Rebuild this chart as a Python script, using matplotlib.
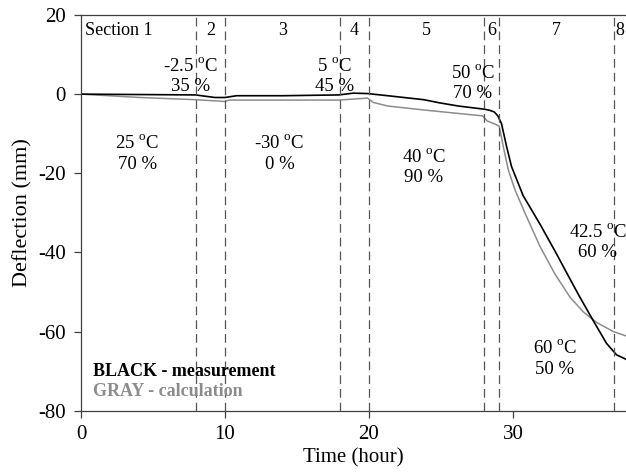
import numpy as np
import matplotlib
matplotlib.use('Agg')
import matplotlib.pyplot as plt

plt.rcParams['font.family'] = ['Liberation Serif', 'DejaVu Serif']
plt.rcParams['mathtext.fontset'] = 'custom'
plt.rcParams['mathtext.rm'] = 'Liberation Serif'
plt.rcParams['axes.unicode_minus'] = False

# measured deflection (black)
meas_t = [0, 4, 7.95, 9.3, 10, 10.8, 14, 17.9, 18.9, 19.9, 21.3, 23.8, 24.9, 26.2,
          28.0, 28.4, 28.7, 28.95, 29.2, 29.56, 29.9, 30.7, 31.9, 33.0, 33.75, 34.6, 35.6,
          36.5, 37.2, 37.85]
meas_d = [0, -0.1, -0.2, -0.85, -0.85, -0.4, -0.4, -0.2, 0.25, 0.15, -0.4, -1.4, -2.2, -3.0,
          -3.8, -4.1, -4.5, -5.5, -7.4, -13.3, -18.3, -25.6, -33.0, -40.2, -45.3, -51.0, -57.4,
          -63.0, -65.9, -67.0]

# calculated deflection (gray)
calc_t = [0, 4.1, 7.95, 10, 10.3, 17.9, 19.9, 20.3, 21.3, 23.8, 27.9, 28.2, 28.9, 29.05,
          29.33, 29.68, 30.14, 30.84, 31.88, 32.92, 33.96, 34.88, 35.81, 36.97, 37.85]
calc_d = [0, -0.85, -1.4, -1.85, -1.5, -1.5, -1.0, -2.1, -3.0, -4.0, -5.5, -6.75, -7.8, -8.2,
          -13.3, -19.2, -24.2, -30.1, -38.5, -45.5, -51.3, -55.0, -57.7, -60.0, -61.1]

# section boundaries (hour)
bounds = [8, 10, 18, 20, 28, 29, 37]
sec_labels = ['2', '3', '4', '5', '6', '7', '8']
sec_x = [9, 14, 19, 24, 28.5, 33, 37.45]

# climate conditions for each section
cond_text = ['25 $^{\\mathrm{o}}$C\n70 %', '-2.5 $^{\\mathrm{o}}$C\n35 %', '-30 $^{\\mathrm{o}}$C\n0 %',
             '5 $^{\\mathrm{o}}$C\n45 %', '40 $^{\\mathrm{o}}$C\n90 %', '50 $^{\\mathrm{o}}$C\n70 %',
             '60 $^{\\mathrm{o}}$C\n50 %', '42.5 $^{\\mathrm{o}}$C\n60 %']
cond_x = [3.9, 7.6, 13.8, 17.6, 23.8, 27.2, 32.9, 35.9]
cond_y = [-15.0, 4.6, -15.0, 4.6, -18.5, 2.8, -66.8, -37.3]


def _main():
    fig = plt.figure(figsize=(6.26, 4.72), dpi=100)
    ax = fig.add_axes([81 / 626, 1 - 410.7 / 472, 545 / 626, 395.7 / 472])

    ax.plot(calc_t, calc_d, color='#8c8c8c', lw=1.1)
    ax.plot(meas_t, meas_d, color='black', lw=1.2)

    for b in bounds:
        ax.axvline(b, color='#555555', lw=0.9, dashes=(7, 4))

    ax.text(0.3, 16.2, 'Section 1', fontsize=13, ha='left', va='center')
    for x, s in zip(sec_x, sec_labels):
        ax.text(x, 16.2, s, fontsize=13, ha='center', va='center')

    for x, y, s in zip(cond_x, cond_y, cond_text):
        ax.text(x, y, s, fontsize=13.5, ha='center', va='center', linespacing=1.25)

    ax.text(0.85, -70.2, 'BLACK - measurement', fontsize=13, fontweight='bold',
            color='black', ha='left', va='center')
    ax.text(0.85, -75.2, 'GRAY - calculation', fontsize=13, fontweight='bold',
            color='#8c8c8c', ha='left', va='center')

    ax.set_xlim(0, 37.85)
    ax.set_ylim(-80, 20)
    ax.set_xticks([0, 10, 20, 30])
    ax.set_yticks([20, 0, -20, -40, -60, -80])
    ax.tick_params(labelsize=15, color='#404040', length=5, width=0.9)
    ax.tick_params(axis='x', pad=5)
    ax.tick_params(axis='y', pad=6)
    ax.set_xlabel('Time (hour)', fontsize=15, labelpad=3)
    ax.set_ylabel('Deflection (mm)', fontsize=16, labelpad=4)

    ax.spines['right'].set_visible(False)
    for sp in ['left', 'top', 'bottom']:
        ax.spines[sp].set_color('#404040')
        ax.spines[sp].set_linewidth(0.9)

    fig.savefig('out.png', dpi=100)
    plt.close()


if __name__ == "__main__":
    _main()
